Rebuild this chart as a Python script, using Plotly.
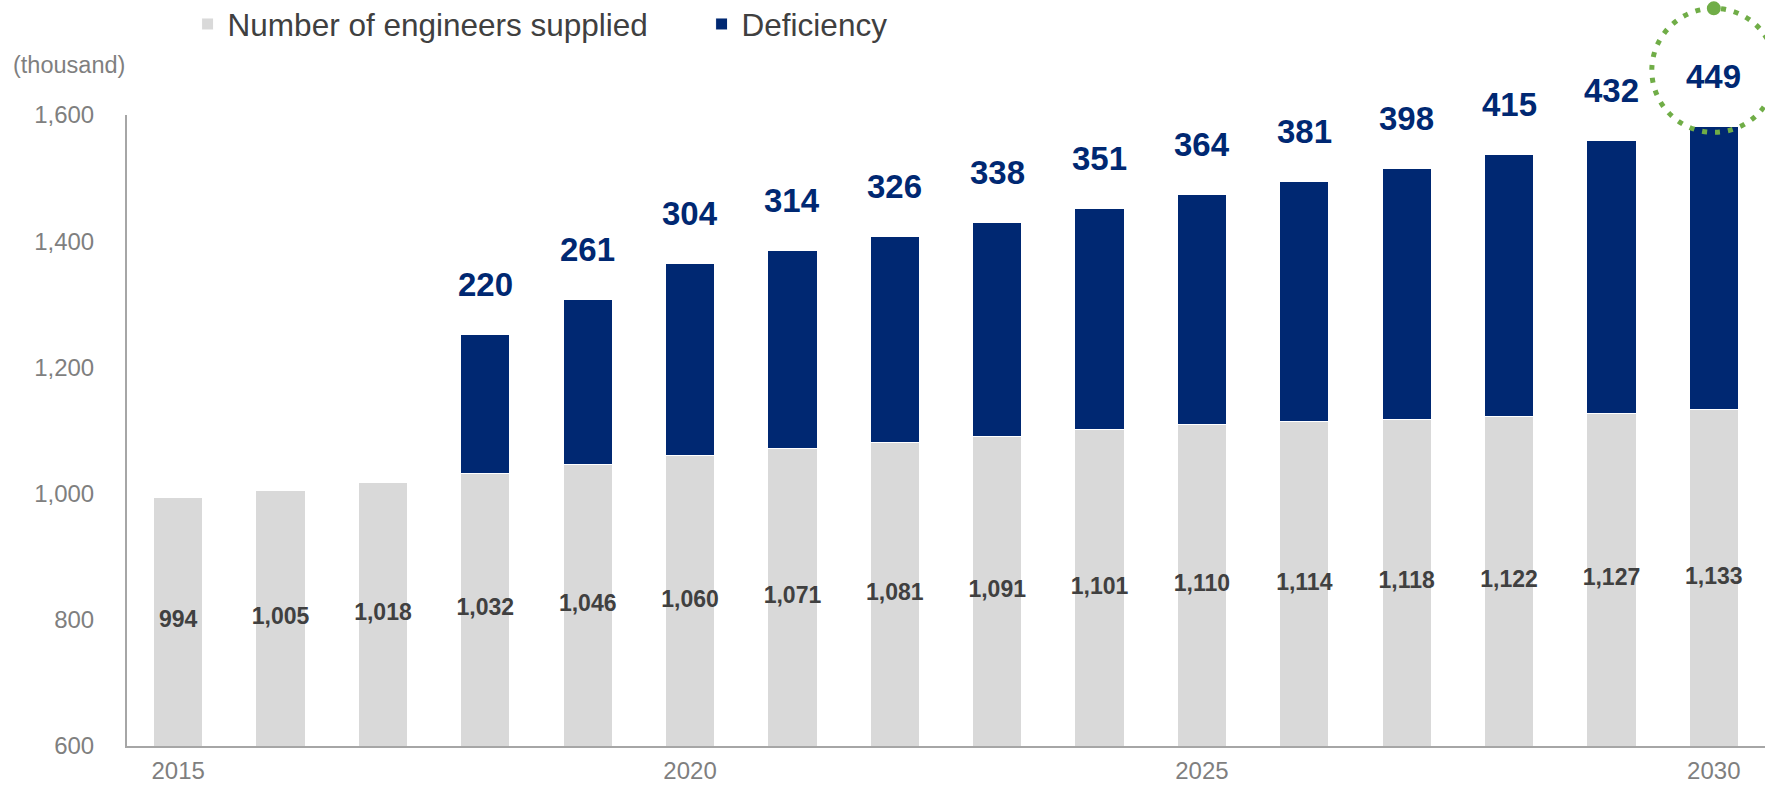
import plotly.graph_objects as go

# Engineer supply vs. deficiency, in thousands
years = list(range(2015, 2031))
supplied = [994, 1005, 1018, 1032, 1046, 1060, 1071, 1081, 1091, 1101,
            1110, 1114, 1118, 1122, 1127, 1133]
deficiency = [None, None, None, 220, 261, 304, 314, 326, 338, 351,
              364, 381, 398, 415, 432, 449]
x_tick_years = [2015, 2020, 2025, 2030]
y_ticks = [600, 800, 1000, 1200, 1400, 1600]

Y_MIN, Y_MAX = 600, 1600
X_LO, X_HI = years[0] - 0.5, years[-1] + 0.5
GRAY = "#d9d9d9"
NAVY = "#002872"
GREEN = "#70ad47"
TEXT_DARK = "#404040"
TEXT_GRAY = "#7f7f7f"
FONT = "Liberation Sans, Arial, sans-serif"

fig = go.Figure()

fig.add_trace(go.Bar(
    x=years, y=supplied, name="Number of engineers supplied",
    marker=dict(color=GRAY, line=dict(color="white", width=1)),
    width=0.48, hoverinfo="skip",
))
fig.add_trace(go.Bar(
    x=years, y=deficiency, name="Deficiency",
    marker=dict(color=NAVY, line=dict(color="white", width=1)),
    width=0.48, hoverinfo="skip",
))

# Supplied values, centred in the visible part of the grey bars
fig.add_trace(go.Scatter(
    x=years, y=[(Y_MIN + v) / 2 for v in supplied],
    mode="text", text=[f"{v:,}" for v in supplied],
    textfont=dict(family=FONT, size=23, color=TEXT_DARK, weight="bold"),
    showlegend=False, hoverinfo="skip", cliponaxis=False,
))

annotations = []
# Deficiency values above each stacked bar
for yr, s, d in zip(years, supplied, deficiency):
    if d is None:
        continue
    annotations.append(dict(
        x=yr, y=s + d, xref="x", yref="y", text=f"<b>{d}</b>",
        showarrow=False, yanchor="middle", yshift=50,
        font=dict(family=FONT, size=33, color=NAVY),
    ))

annotations.append(dict(
    x=-0.071, y=1.079, xref="paper", yref="paper", text="(thousand)",
    showarrow=False, xanchor="left", yanchor="middle",
    font=dict(family=FONT, size=23.5, color=TEXT_GRAY),
))

# Highlight ring around the final year's deficiency label
ring_x = (years[-1] - X_LO) / (X_HI - X_LO)
ring_y = (supplied[-1] + deficiency[-1] - Y_MIN) / (Y_MAX - Y_MIN)
shapes = [
    dict(type="circle", xref="paper", yref="paper",
         xsizemode="pixel", ysizemode="pixel",
         xanchor=ring_x, yanchor=ring_y, x0=-62, x1=62, y0=-6, y1=118,
         line=dict(color=GREEN, width=5, dash="5px,8px"), layer="above"),
    dict(type="circle", xref="paper", yref="paper",
         xsizemode="pixel", ysizemode="pixel",
         xanchor=ring_x, yanchor=ring_y, x0=-7, x1=7, y0=111, y1=125,
         fillcolor=GREEN, line=dict(width=0), layer="above"),
]

fig.update_layout(
    width=1765, height=785,
    margin=dict(l=127, r=0, t=115, b=39, pad=0, autoexpand=False),
    barmode="stack", bargap=0.52,
    plot_bgcolor="white", paper_bgcolor="white",
    font=dict(family=FONT, color=TEXT_GRAY),
    showlegend=True,
    legend=dict(
        orientation="h", x=0.037, xanchor="left", y=1.187, yanchor="top",
        font=dict(family=FONT, size=31.5, color=TEXT_DARK),
        entrywidth=469, entrywidthmode="pixels",
        traceorder="normal", itemclick=False, itemdoubleclick=False,
    ),
    xaxis=dict(
        range=[X_LO, X_HI],
        tickmode="array", tickvals=x_tick_years,
        ticktext=[str(v) for v in x_tick_years],
        tickfont=dict(family=FONT, size=24, color=TEXT_GRAY),
        showline=True, linecolor="#a6a6a6", linewidth=2,
        showgrid=False, zeroline=False, ticks="", ticklabelstandoff=2,
        automargin=False,
    ),
    yaxis=dict(
        range=[Y_MIN, Y_MAX], tickmode="array", tickvals=y_ticks,
        ticktext=[f"{v:,}" for v in y_ticks],
        tickfont=dict(family=FONT, size=24, color=TEXT_GRAY),
        showline=True, linecolor="#a6a6a6", linewidth=2,
        showgrid=False, zeroline=False, ticks="", ticklabelstandoff=26,
        automargin=False,
    ),
    annotations=annotations,
    shapes=shapes,
)

fig.write_html("out.html")
